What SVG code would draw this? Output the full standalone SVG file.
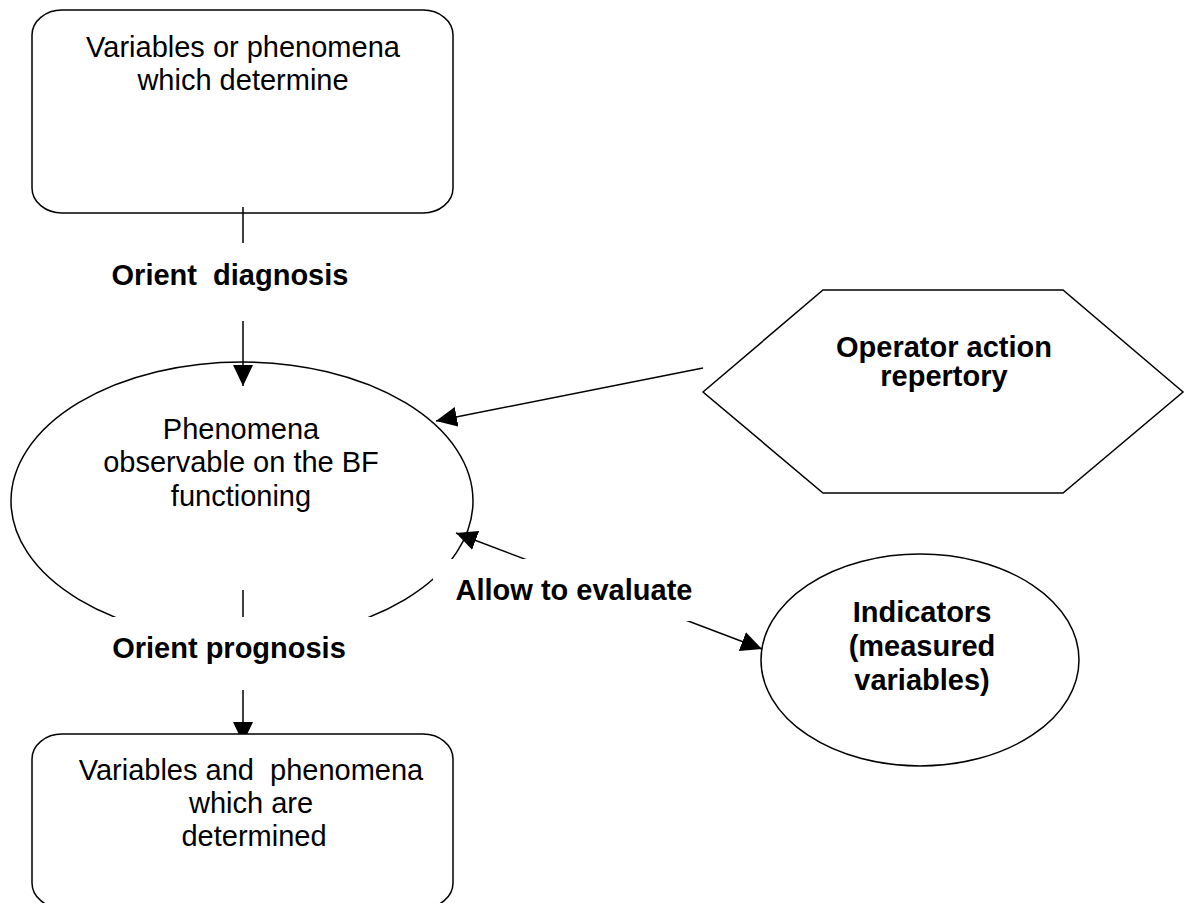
<svg xmlns="http://www.w3.org/2000/svg" width="1187" height="903" viewBox="0 0 1187 903">
  <style>
    .shape { fill: none; stroke: #000; stroke-width: 1.5; }
    .solid { fill: #fff; stroke: #000; stroke-width: 1.5; }
    .edge { fill: none; stroke: #000; stroke-width: 1.5; }
    .txt { font-family: "Liberation Sans", Arial, sans-serif; font-size: 29px; fill: #000; text-anchor: middle; }
    .bold { font-weight: bold; }
    .bg { fill: #fff; stroke: none; }
  </style>
  <defs>
    <marker id="arrow" viewBox="0 0 21 20" refX="21" refY="10" markerWidth="21" markerHeight="20" markerUnits="userSpaceOnUse" orient="auto-start-reverse">
      <path d="M0,0 L21,10 L0,20 Z" fill="#000"/>
    </marker>
  </defs>

  <rect width="1187" height="903" fill="#fff"/>

  <!-- connectors -->
  <g id="connectors">
    <line class="edge" x1="243" y1="207" x2="243" y2="386" marker-end="url(#arrow)"/>
    <line class="edge" x1="703" y1="368" x2="436" y2="421" marker-end="url(#arrow)"/>
    <line class="edge" x1="456" y1="533" x2="762" y2="649" marker-start="url(#arrow)" marker-end="url(#arrow)"/>
    <line class="edge" x1="243" y1="590" x2="243" y2="743" marker-end="url(#arrow)"/>
  </g>

  <!-- nodes -->
  <g id="node-determine">
    <rect class="shape" x="32" y="10" width="421" height="203" rx="30" ry="25"/>
    <text class="txt" x="243" y="57">Variables or phenomena</text>
    <text class="txt" x="243" y="90">which determine</text>
  </g>

  <g id="node-phenomena">
    <ellipse class="shape" cx="242" cy="501" rx="231" ry="139"/>
    <text class="txt" x="241" y="439">Phenomena</text>
    <text class="txt" x="241" y="472">observable on the BF</text>
    <text class="txt" x="241" y="506">functioning</text>
  </g>

  <g id="node-operator">
    <polygon class="shape" points="703,392 823,290 1063,290 1183,392 1063,493 823,493"/>
    <text class="txt bold" x="944" y="357">Operator action</text>
    <text class="txt bold" x="944" y="386">repertory</text>
  </g>

  <g id="node-indicators">
    <ellipse class="shape" cx="920" cy="660" rx="159" ry="106"/>
    <text class="txt bold" x="922" y="622">Indicators</text>
    <text class="txt bold" x="922" y="656">(measured</text>
    <text class="txt bold" x="922" y="690">variables)</text>
  </g>

  <g id="node-determined">
    <rect class="solid" x="32" y="734" width="421" height="174" rx="30" ry="25"/>
    <text class="txt" x="251" y="780" xml:space="preserve">Variables and  phenomena</text>
    <text class="txt" x="251" y="813">which are</text>
    <text class="txt" x="254" y="846">determined</text>
  </g>

  <!-- connector labels on white backgrounds -->
  <g id="connector-labels">
    <g id="label-diagnosis">
      <rect class="bg" x="105" y="243" width="252" height="78"/>
      <text class="txt bold" x="230" y="285" xml:space="preserve">Orient  diagnosis</text>
    </g>
    <g id="label-prognosis">
      <rect class="bg" x="100" y="617" width="285" height="73"/>
      <text class="txt bold" x="229" y="658">Orient prognosis</text>
    </g>
    <g id="label-evaluate">
      <rect class="bg" x="433" y="559" width="267" height="62"/>
      <text class="txt bold" x="574" y="600">Allow to evaluate</text>
    </g>
  </g>
</svg>
